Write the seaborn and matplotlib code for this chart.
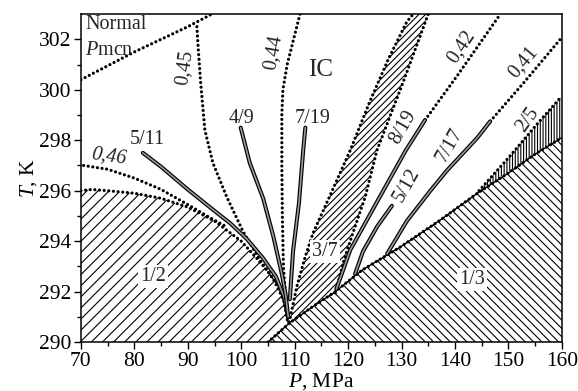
import numpy as np
import seaborn as sns
from matplotlib import pyplot as plt

# phase boundaries (P in MPa, T in K)
normal_p = [70, 75, 80, 85, 90, 94.5]
normal_t = [300.4, 300.95, 301.5, 302.0, 302.5, 303.0]

half_p = [70, 72, 75, 80, 85, 90, 95, 100, 103, 105, 107, 108, 108.7]
half_t = [296.0, 296.05, 296.0, 295.9, 295.7, 295.35, 294.8, 294.0, 293.3, 292.8, 292.2, 291.6, 290.8]

third_p = [105, 109, 113, 117.6, 122.6, 129.7, 137, 144.2, 150, 155, 160]
third_t = [290.0, 290.75, 291.35, 292.0, 292.85, 293.76, 294.8, 295.9, 296.7, 297.45, 298.1]

band_left_p = [109.0, 110.4, 112.0, 113.4, 116.6, 120.4, 124.0, 127.5, 131.0, 132.2]
band_left_t = [290.8, 292.2, 293.4, 294.3, 295.8, 297.6, 299.5, 301.2, 302.7, 303.0]
band_right_p = [117.6, 119.3, 120.7, 123.2, 125.4, 130.3, 135.0]
band_right_t = [291.95, 293.3, 294.2, 295.75, 297.6, 300.3, 303.0]

two_fifth_up_p = [144.5, 150, 155, 160]
two_fifth_up_t = [296.0, 297.3, 298.55, 299.75]
two_fifth_lo_p = [144.5, 150, 155, 160]
two_fifth_lo_t = [295.95, 296.75, 297.45, 298.1]

c045_p = [91.7, 92.0, 92.4, 93.2, 94.7, 97.3, 100.3, 103.5, 106, 108.8]
c045_t = [302.5, 301.5, 300.3, 298.4, 297.1, 295.75, 294.4, 293.25, 292.5, 291.3]

c044_p = [111.0, 109.8, 108.6, 107.8, 107.6, 107.6, 107.7, 107.9, 108.3, 108.8]
c044_t = [303, 302, 301, 300, 299, 297, 295, 293, 291.8, 290.9]

c046_p = [70.5, 75, 80, 85, 90, 94, 97]
c046_t = [297.0, 296.85, 296.5, 296.05, 295.45, 294.95, 294.6]

c042_p = [134.4, 140.4, 148.5]
c042_t = [298.8, 300.55, 303.0]

c041_p = [146.6, 152.8, 159.7]
c041_t = [298.75, 300.26, 302.0]

# narrow commensurate bands
b511_p = [81.6, 85, 90, 95, 98, 101, 104, 106.5, 108, 108.8]
b511_t = [297.5, 296.95, 296.05, 295.2, 294.7, 294.1, 293.35, 292.6, 291.8, 291.0]
b49_p = [99.9, 101.6, 104.1, 106.0, 107.6, 108.3, 108.8]
b49_t = [298.5, 297.1, 295.7, 294.2, 292.7, 291.9, 291.0]
b719_p = [112.0, 111.6, 110.8, 109.7, 109.1]
b719_t = [298.5, 297.6, 295.5, 293.6, 291.7]
b819_p = [117.8, 120.4, 125.0, 130.8, 134.4]
b819_t = [292.1, 293.65, 295.4, 297.6, 298.8]
b512_p = [121.3, 122.8, 125.5, 128.2]
b512_t = [292.7, 293.6, 294.6, 295.4]
b717_p = [127.3, 131, 135.4, 138.5, 144.2, 146.6]
b717_t = [293.5, 294.8, 296.0, 296.8, 298.1, 298.75]

sns.set_theme(style='ticks')
plt.rcParams['font.family'] = ['Liberation Serif', 'DejaVu Serif']
plt.rcParams['mathtext.fontset'] = 'custom'
plt.rcParams['mathtext.rm'] = 'Liberation Serif'
plt.rcParams['mathtext.it'] = 'Liberation Serif:italic'
plt.rcParams['hatch.linewidth'] = 0.8

fig = plt.figure(figsize=(5.78, 3.91), dpi=100)
ax = fig.add_axes([0.140, 0.125, 0.832, 0.839])

# hatched phases
ax.fill(half_p + [105, 70], half_t + [290, 290], facecolor='white',
        edgecolor='black', hatch='///', lw=0)
ax.fill(third_p + [160], third_t + [290], facecolor='white',
        edgecolor='black', hatch='\\\\\\\\', lw=0)
ax.fill(band_left_p + band_right_p[::-1], band_left_t + band_right_t[::-1],
        facecolor='white', edgecolor='black', hatch='/////', lw=0)
ax.fill(two_fifth_up_p + two_fifth_lo_p[::-1], two_fifth_up_t + two_fifth_lo_t[::-1],
        facecolor='white', edgecolor='black', hatch='||||||', lw=0)

dots = dict(color='black', lw=2.3, linestyle=(0, (0.01, 1.45)),
            dash_capstyle='round')


def dotted(p, t, **kw):
    sns.lineplot(x=p, y=t, sort=False, estimator=None, ax=ax, **{**dots, **kw})


def band(p, t):
    sns.lineplot(x=p, y=t, sort=False, estimator=None, ax=ax, color='black', lw=2.9)
    sns.lineplot(x=p, y=t, sort=False, estimator=None, ax=ax, color='#9a9a9a', lw=1.2)


for p, t in [(normal_p, normal_t), (half_p, half_t), (c045_p, c045_t),
             (c044_p, c044_t), (c046_p, c046_t), (c042_p, c042_t),
             (c041_p, c041_t), (band_left_p, band_left_t),
             (band_right_p, band_right_t), (third_p, third_t),
             (two_fifth_up_p, two_fifth_up_t)]:
    dotted(p, t)

sns.lineplot(x=third_p, y=third_t, sort=False, estimator=None, ax=ax, color='black', lw=1.0)
sns.lineplot(x=half_p[-4:], y=half_t[-4:], sort=False, estimator=None, ax=ax, color='black', lw=1.0)

for p, t in [(b511_p, b511_t), (b49_p, b49_t), (b719_p, b719_t),
             (b819_p, b819_t), (b512_p, b512_t), (b717_p, b717_t)]:
    band(p, t)

# labels
fs = 14.5
box = dict(facecolor='white', edgecolor='none', pad=1.5)
ax.text(70.8, 302.95, 'Normal', fontsize=fs, ha='left', va='top')
ax.text(70.8, 301.95, '$\\mathit{P}$mcn', fontsize=fs, ha='left', va='top')
ax.text(89.5, 300.9, '0,45', fontsize=fs, rotation=82, ha='center', va='center')
ax.text(106.1, 301.5, '0,44', fontsize=fs, rotation=80, ha='center', va='center')
ax.text(114.8, 300.8, 'IC', fontsize=18, ha='center', va='center')
ax.text(100.0, 298.87, '4/9', fontsize=fs, ha='center', va='center')
ax.text(113.4, 298.87, '7/19', fontsize=fs, ha='center', va='center')
ax.text(82.4, 298.04, '5/11', fontsize=fs, ha='center', va='center')
ax.text(75.2, 297.37, '0,46', fontsize=fs, style='italic', rotation=-8,
        ha='center', va='center')
ax.text(83.5, 292.6, '1/2', fontsize=fs, ha='center', va='center', bbox=box)
ax.text(115.7, 293.6, '3/7', fontsize=fs, ha='center', va='center', bbox=box)
ax.text(143.2, 292.5, '1/3', fontsize=fs, ha='center', va='center', bbox=box)
ax.text(130.3, 298.5, '8/19', fontsize=fs, rotation=60, ha='center', va='center')
ax.text(131.0, 296.2, '5/12', fontsize=fs, rotation=60, ha='center', va='center')
ax.text(139.1, 297.8, '7/17', fontsize=fs, rotation=60, ha='center', va='center')
ax.text(141.3, 301.7, '0,42', fontsize=fs, rotation=56, ha='center', va='center')
ax.text(152.8, 301.1, '0,41', fontsize=fs, rotation=50, ha='center', va='center')
ax.text(153.7, 298.8, '2/5', fontsize=fs, rotation=55, ha='center', va='center')

ax.set_xlim(70, 160)
ax.set_ylim(290, 303)
ax.set_xticks(np.arange(70, 161, 10))
ax.set_xticks(np.arange(75, 160, 10), minor=True)
ax.set_yticks(np.arange(290, 303, 2))
ax.set_yticks(np.arange(291, 303, 2), minor=True)
ax.tick_params(which='both', direction='out', color='black', width=1.0,
               labelsize=15.5, labelcolor='black', pad=2)
ax.tick_params(which='major', length=5)
ax.tick_params(which='minor', length=3)
for s in ax.spines.values():
    s.set_color('black')
    s.set_linewidth(1.1)
ax.set_xlabel('$\\mathit{P}$, MPa', fontsize=15.5, color='black', labelpad=0.5)
ax.set_ylabel('$\\mathit{T}$, K', fontsize=15.5, color='black', labelpad=0)

fig.savefig('out.png', dpi=100)
